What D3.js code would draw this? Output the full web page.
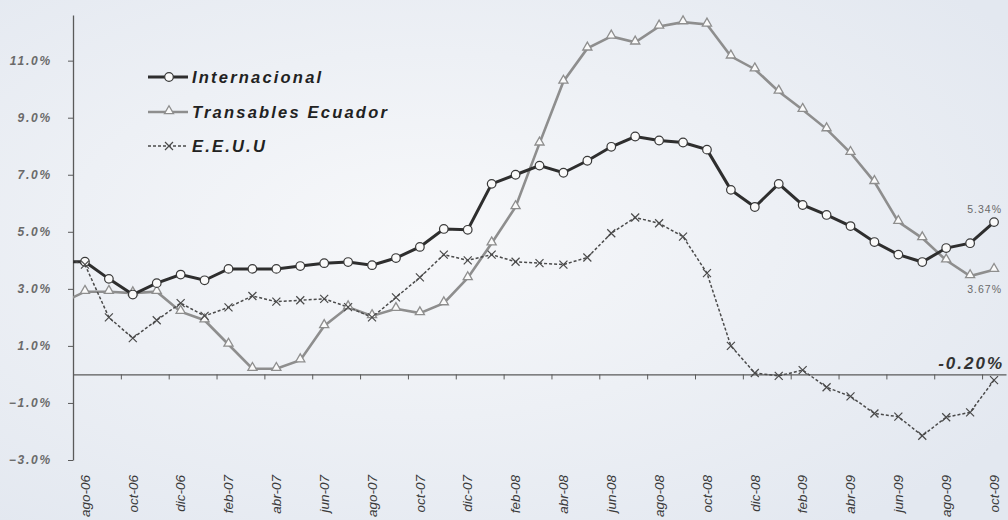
<!DOCTYPE html>
<html>
<head>
<meta charset="utf-8">
<script src="https://cdn.jsdelivr.net/npm/d3@7"></script>
<style>
  html, body { margin: 0; padding: 0; background: #edf0f5; }
  svg { display: block; font-family: "Liberation Sans", Arial, sans-serif; }
</style>
</head>
<body>
<div id="chart"></div>
<script>
// months (jul-06 sits left of the axis and gets clipped)
const months = ["jul-06","ago-06","sep-06","oct-06","nov-06","dic-06","ene-07","feb-07","mar-07","abr-07","may-07","jun-07",
  "jul-07","ago-07","sep-07","oct-07","nov-07","dic-07","ene-08","feb-08","mar-08","abr-08","may-08","jun-08",
  "jul-08","ago-08","sep-08","oct-08","nov-08","dic-08","ene-09","feb-09","mar-09","abr-09","may-09","jun-09",
  "jul-09","ago-09","sep-09","oct-09"]

const internacional = [3.95, 3.95, 3.35, 2.8, 3.2, 3.5, 3.3, 3.7, 3.7, 3.7, 3.8, 3.9, 3.94, 3.83, 4.08, 4.47, 5.1, 5.07,
  6.68, 7.0, 7.32, 7.07, 7.49, 7.98, 8.34, 8.2, 8.13, 7.88, 6.47, 5.87, 6.68, 5.94, 5.59, 5.2, 4.64, 4.2, 3.94, 4.43, 4.6, 5.34]

const transables = [2.5, 2.9, 2.9, 2.85, 2.9, 2.2, 1.9, 1.05, 0.2, 0.2, 0.5, 1.7, 2.36, 2.05, 2.3, 2.15, 2.5, 3.38,
  4.6, 5.87, 8.1, 10.27, 11.43, 11.85, 11.64, 12.2, 12.35, 12.27, 11.15, 10.7, 9.92, 9.28, 8.6, 7.77, 6.75, 5.35, 4.78, 4.0, 3.45, 3.67]

const eeuu = [4.1, 3.85, 2.0, 1.27, 1.9, 2.5, 2.05, 2.35, 2.75, 2.55, 2.6, 2.65, 2.36, 2.0, 2.7, 3.4, 4.2, 4.0,
  4.2, 3.95, 3.9, 3.85, 4.1, 4.95, 5.5, 5.3, 4.83, 3.55, 1.0, 0.05, -0.05, 0.15, -0.45, -0.77, -1.37, -1.48, -2.15, -1.5, -1.33, -0.2]

const yTicks = [-3, -1, 1, 3, 5, 7, 9, 11]

const W = 1008, H = 520

var svg = d3.select("#chart").append("svg")
    .attr("width", W)
    .attr("height", H)

// scanned-paper background
var defs = svg.append("defs")
var grad = defs.append("radialGradient").attr("id", "bg").attr("cx", "42%").attr("cy", "45%").attr("r", "70%")
grad.append("stop").attr("offset", "0%").attr("stop-color", "#f7f8fa")
grad.append("stop").attr("offset", "100%").attr("stop-color", "#e3e8f0")
svg.append("rect").attr("width", W).attr("height", H).attr("fill", "url(#bg)")

var x = d3.scaleLinear().domain([0.5, 39.5]).range([73, 1006])
var y = d3.scaleLinear().domain([-3, 12.6]).range([460, 15])

defs.append("clipPath").attr("id", "plot")
    .append("rect").attr("x", x(0.5)).attr("y", 0).attr("width", x(39.5) - x(0.5) + 2).attr("height", H)

// y axis
var yAxis = svg.append("g")
    .attr("transform", "translate(" + x(0.5) + ",0)")
    .call(d3.axisLeft(y).tickValues(yTicks).tickSize(5).tickSizeOuter(0).tickPadding(16)
        .tickFormat(d => d3.format(".1f")(d) + "%"))
yAxis.select(".domain").attr("stroke", "#5a5a5a").attr("stroke-width", 1.3)
yAxis.selectAll(".tick line").attr("stroke", "#5a5a5a")
yAxis.selectAll("text")
    .style("font-size", "12px").style("font-style", "italic").style("font-weight", "bold")
    .style("letter-spacing", "1.8px")
    .attr("fill", "#6a6a6a")

// x axis along zero
var xAxis = svg.append("g")
    .attr("transform", "translate(0," + y(0) + ")")
    .call(d3.axisBottom(x).tickValues(d3.range(2.5, 39.5, 2)).tickSize(5).tickSizeOuter(0).tickFormat(""))
xAxis.select(".domain").attr("stroke", "#5a5a5a").attr("stroke-width", 1.3)
xAxis.selectAll(".tick line").attr("stroke", "#5a5a5a")

// month labels every two months
var labelIdx = d3.range(1, months.length, 2)
svg.append("g").selectAll("text")
    .data(labelIdx).enter().append("text")
    .attr("transform", i => "translate(" + x(i) + ",475) rotate(-90)")
    .attr("text-anchor", "end")
    .attr("dy", "0.35em")
    .style("font-size", "13.5px")
    .style("font-style", "italic")
    .attr("fill", "#3a3a3a")
    .text(i => months[i])

var line = d3.line().x((d, i) => x(i)).y(d => y(d))
var plot = svg.append("g").attr("clip-path", "url(#plot)")

// Transables Ecuador
plot.append("path").datum(transables)
    .attr("d", line).attr("fill", "none").attr("stroke", "#8e8e8e").attr("stroke-width", 2.6)
// Internacional
plot.append("path").datum(internacional)
    .attr("d", line).attr("fill", "none").attr("stroke", "#2e2e2e").attr("stroke-width", 3)
// E.E.U.U
plot.append("path").datum(eeuu)
    .attr("d", line).attr("fill", "none").attr("stroke", "#4a4a4a").attr("stroke-width", 1.5)
    .attr("stroke-dasharray", "3,2")

var tri = d3.symbol().type(d3.symbolTriangle).size(36)

function drawTriangles(g, data) {
    g.selectAll("tri").data(data).enter().append("path")
        .attr("d", tri)
        .attr("transform", (d, i) => "translate(" + x(i) + "," + (y(d) - 1) + ")")
        .attr("fill", "#fafafa").attr("stroke", "#8e8e8e").attr("stroke-width", 1.3)
}
function drawCircles(g, data) {
    g.selectAll("circ").data(data).enter().append("circle")
        .attr("cx", (d, i) => x(i)).attr("cy", d => y(d)).attr("r", 4.3)
        .attr("fill", "#fafafa").attr("stroke", "#3a3a3a").attr("stroke-width", 1.2)
}
function drawCrosses(g, data) {
    g.selectAll("cross").data(data).enter().append("path")
        .attr("d", "M-4,-4L4,4M-4,4L4,-4")
        .attr("transform", (d, i) => "translate(" + x(i) + "," + y(d) + ")")
        .attr("stroke", "#4a4a4a").attr("stroke-width", 1.2).attr("fill", "none")
}

var markers = svg.append("g").attr("clip-path", "url(#plot)")
drawTriangles(markers.append("g"), transables)
drawCircles(markers.append("g"), internacional)
drawCrosses(markers.append("g"), eeuu)

// end-value notes
var last = months.length - 1
svg.append("text").attr("x", x(last) + 8).attr("y", y(internacional[last]) - 9)
    .attr("text-anchor", "end").style("font-size", "10.5px").style("letter-spacing", "1px").attr("fill", "#6a6a6a")
    .text(internacional[last].toFixed(2) + "%")
svg.append("text").attr("x", x(last) + 8).attr("y", y(transables[last]) + 23)
    .attr("text-anchor", "end").style("font-size", "10.5px").style("letter-spacing", "1px").attr("fill", "#6a6a6a")
    .text(transables[last].toFixed(2) + "%")
svg.append("text").attr("x", x(last) + 10).attr("y", y(0) - 5)
    .attr("text-anchor", "end").style("font-size", "17px").style("font-style", "italic").style("font-weight", "bold")
    .style("letter-spacing", "2px")
    .attr("fill", "#333")
    .text(eeuu[last].toFixed(2) + "%")

// legend
var legendItems = [
    { name: "Internacional", kind: "circle", y: 77 },
    { name: "Transables Ecuador", kind: "tri", y: 112 },
    { name: "E.E.U.U", kind: "cross", y: 146 },
]
var lg = svg.append("g")
legendItems.forEach(item => {
    var g = lg.append("g").attr("transform", "translate(148," + item.y + ")")
    if (item.kind === "circle") {
        g.append("line").attr("x1", 0).attr("x2", 40).attr("stroke", "#2e2e2e").attr("stroke-width", 3)
        g.append("circle").attr("cx", 21).attr("r", 4.3).attr("fill", "#fafafa").attr("stroke", "#3a3a3a").attr("stroke-width", 1.2)
    } else if (item.kind === "tri") {
        g.append("line").attr("x1", 0).attr("x2", 40).attr("stroke", "#8e8e8e").attr("stroke-width", 2.6)
        g.append("path").attr("d", tri).attr("transform", "translate(21,-1)")
            .attr("fill", "#fafafa").attr("stroke", "#8e8e8e").attr("stroke-width", 1.3)
    } else {
        g.append("line").attr("x1", 0).attr("x2", 40).attr("stroke", "#4a4a4a").attr("stroke-width", 1.5).attr("stroke-dasharray", "3,2")
        g.append("path").attr("d", "M-4,-4L4,4M-4,4L4,-4").attr("transform", "translate(21,0)")
            .attr("stroke", "#4a4a4a").attr("stroke-width", 1.2)
    }
    g.append("text").attr("x", 44).attr("dy", "0.35em")
        .style("font-size", "16.5px").style("font-style", "italic").style("font-weight", "bold")
        .style("letter-spacing", "2.2px")
        .attr("fill", "#222")
        .text(item.name)
})
</script>
</body>
</html>
